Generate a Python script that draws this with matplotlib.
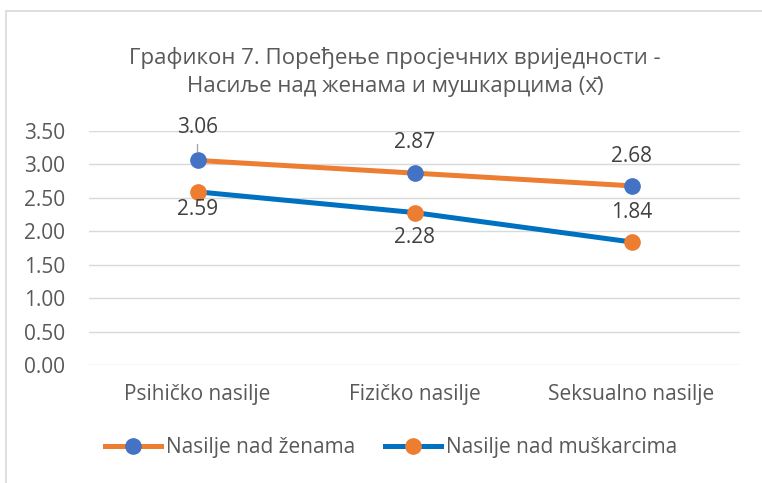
import matplotlib
matplotlib.use('Agg')
import matplotlib.pyplot as plt
from matplotlib.lines import Line2D
from matplotlib.patches import Rectangle

plt.rcParams['font.family'] = ['Open Sans', 'Noto Sans', 'DejaVu Sans']

# chart data
categories = ['Psihičko nasilje', 'Fizičko nasilje', 'Seksualno nasilje']
zene = [3.06, 2.87, 2.68]
muskarci = [2.59, 2.28, 1.84]
series_names = ['Nasilje nad ženama', 'Nasilje nad muškarcima']
title = 'Графикон 7. Поређење просјечних вриједности -\nНасиље над женама и мушкарцима (x\u0304)'

ORANGE = '#ED7D31'
BLUE_MARK = '#4472C4'
BLUE_LINE = '#0070C0'
TEXT = '#595959'
W, H = 762, 483
FS = 15

fig = plt.figure(figsize=(W / 100, H / 100), dpi=100)

# chart area border (only top and left visible in the crop)
fig.patches.append(Rectangle((6 / W, -0.1), 1.1, 1 - 11 / H + 0.1, transform=fig.transFigure,
                             fill=False, edgecolor='#D9D9D9', lw=1.2))

ax = fig.add_axes([89 / W, (H - 365) / H, (740 - 89) / W, 234 / H])
x = list(range(len(categories)))

ax.plot(x, zene, color=ORANGE, lw=3.6, marker='o', markersize=11,
        markerfacecolor=BLUE_MARK, markeredgecolor=BLUE_MARK, solid_capstyle='round', zorder=3)
ax.plot(x, muskarci, color=BLUE_LINE, lw=3.6, marker='o', markersize=11,
        markerfacecolor=ORANGE, markeredgecolor=ORANGE, solid_capstyle='round', zorder=3)

ax.set_xlim(-0.5, 2.5)
ax.set_ylim(0, 3.5)
ax.set_yticks([0, 0.5, 1.0, 1.5, 2.0, 2.5, 3.0, 3.5])
ax.set_yticklabels([f'{v:.2f}' for v in ax.get_yticks()])
ax.set_xticks(x)
ax.set_xticklabels(categories)
ax.tick_params(length=0, labelsize=FS, colors=TEXT)
ax.tick_params(axis='y', pad=17)
ax.tick_params(axis='x', pad=14)
ax.grid(axis='y', color='#D9D9D9', lw=1)
ax.set_axisbelow(True)
for s in ax.spines.values():
    s.set_visible(False)

# data labels (offsets in points)
z_off = [24, 22, 21]
m_off = [-13, -18, 21]
for i, v in enumerate(zene):
    kw = {}
    if i == 0:
        kw['arrowprops'] = dict(arrowstyle='-', color='#A6A6A6', lw=1, shrinkA=3, shrinkB=6)
    ax.annotate(f'{v:.2f}', (x[i], v), xytext=(0, z_off[i]), textcoords='offset points',
                ha='center', va='center', fontsize=FS, color='#404040', **kw)
for i, v in enumerate(muskarci):
    ax.annotate(f'{v:.2f}', (x[i], v), xytext=(0, m_off[i]), textcoords='offset points',
                ha='center', va='center', fontsize=FS, color='#404040')

fig.text(395 / W, 1 - 72 / H, title, ha='center', va='center', fontsize=16,
         color=TEXT, linespacing=1.45)

handles = [
    Line2D([], [], color=ORANGE, lw=3.6, marker='o', markersize=11,
           markerfacecolor=BLUE_MARK, markeredgecolor=BLUE_MARK),
    Line2D([], [], color=BLUE_LINE, lw=3.6, marker='o', markersize=11,
           markerfacecolor=ORANGE, markeredgecolor=ORANGE),
]
fig.legend(handles, series_names, loc='center', bbox_to_anchor=(391 / W, 1 - 448 / H),
           ncol=2, frameon=False, fontsize=FS, handlelength=2.7, handletextpad=0.25,
           columnspacing=1.4, labelcolor=TEXT)

fig.savefig('out.png', dpi=100)
